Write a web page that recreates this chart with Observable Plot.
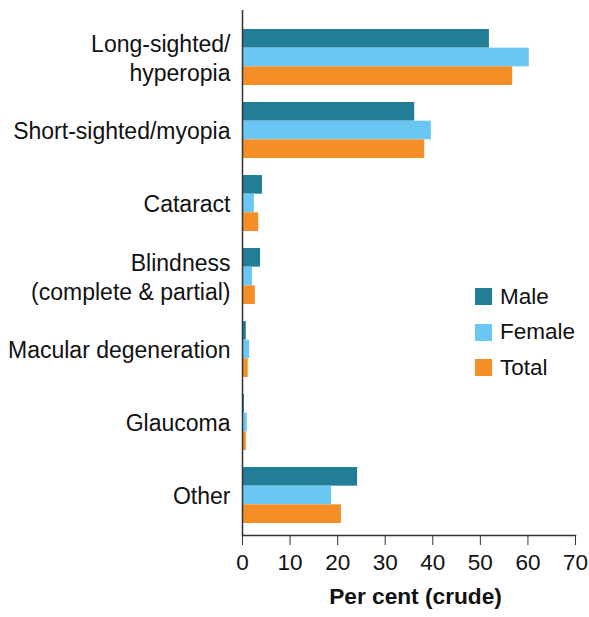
<!DOCTYPE html>
<html>
<head>
<meta charset="utf-8">
<script src="https://cdn.jsdelivr.net/npm/d3@7"></script>
<script src="https://cdn.jsdelivr.net/npm/@observablehq/plot@0.6"></script>
<style>
  html, body { margin: 0; padding: 0; background: #fff; }
  #wrap { position: relative; width: 589px; height: 617px; font-family: "Liberation Sans", Arial, sans-serif; }
  .legend { position: absolute; left: 475px; top: 279px; font-size: 22.5px; color: #111; }
  .legend .item { display: flex; align-items: center; height: 35.5px; }
  .legend .sw { width: 17px; height: 17px; margin-right: 8px; }
</style>
</head>
<body>
<div id="wrap"></div>
<script>
const categories = [
  "Long-sighted/\nhyperopia",
  "Short-sighted/myopia",
  "Cataract",
  "Blindness\n(complete & partial)",
  "Macular degeneration",
  "Glaucoma",
  "Other"
];
const series = ["Male", "Female", "Total"];
const colors = ["#227e97", "#6ac6f2", "#f58e26"];
const male   = [51.9, 36.2, 4.2, 3.8, 0.8, 0.4, 24.2];
const female = [60.3, 39.7, 2.5, 2.1, 1.5, 1.0, 18.7];
const total  = [56.8, 38.3, 3.4, 2.7, 1.2, 0.8, 20.8];
const xTicks = [0, 10, 20, 30, 40, 50, 60, 70];
const xLabel = "Per cent (crude)";

const valuesBySeries = {Male: male, Female: female, Total: total};
const rows = series.flatMap(s => categories.map((c, i) => ({category: c, series: s, value: valuesBySeries[s][i]})));

const bandInset = 18.67;
const offsets = {Male: -18.67, Female: 0, Total: 18.67};

const barMarks = series.map(s => Plot.barX(rows.filter(d => d.series === s), {
  x: "value", y: "category", fill: "series",
  insetTop: bandInset, insetBottom: bandInset, dy: offsets[s]
}));

const chart = Plot.plot({
  width: 589,
  height: 617,
  marginLeft: 242,
  marginRight: 14,
  marginTop: 10,
  marginBottom: 82,
  style: {fontFamily: '"Liberation Sans", Arial, sans-serif', fontSize: "22px", color: "#111", background: "white"},
  x: {domain: [0, 70]},
  y: {domain: categories, paddingInner: 0.233, paddingOuter: 0.212, align: 0.61},
  color: {domain: series, range: colors},
  marks: [
    ...barMarks,
    Plot.axisY({tickSize: 0, tickPadding: 12, fontSize: 23, lineHeight: 1.22, label: null}),
    Plot.axisX({ticks: xTicks, tickSize: 10, tickPadding: 9, fontSize: 22.5, stroke: "#333", label: null}),
    Plot.text([xLabel], {text: d => d, frameAnchor: "bottom", dx: 6.5, dy: 68,
      fontSize: 22.7, fontWeight: "bold", fill: "#111"}),
    Plot.ruleX([0], {stroke: "#333", strokeWidth: 1.5}),
    Plot.frame({anchor: "bottom", stroke: "#333", strokeWidth: 1.5})
  ]
});

const wrap = document.getElementById("wrap");
wrap.appendChild(chart);

const legend = document.createElement("div");
legend.className = "legend";
series.forEach((s, i) => {
  const item = document.createElement("div");
  item.className = "item";
  const sw = document.createElement("span");
  sw.className = "sw";
  sw.style.background = colors[i];
  const label = document.createElement("span");
  label.textContent = s;
  item.appendChild(sw);
  item.appendChild(label);
  legend.appendChild(item);
});
wrap.appendChild(legend);
</script>
</body>
</html>
